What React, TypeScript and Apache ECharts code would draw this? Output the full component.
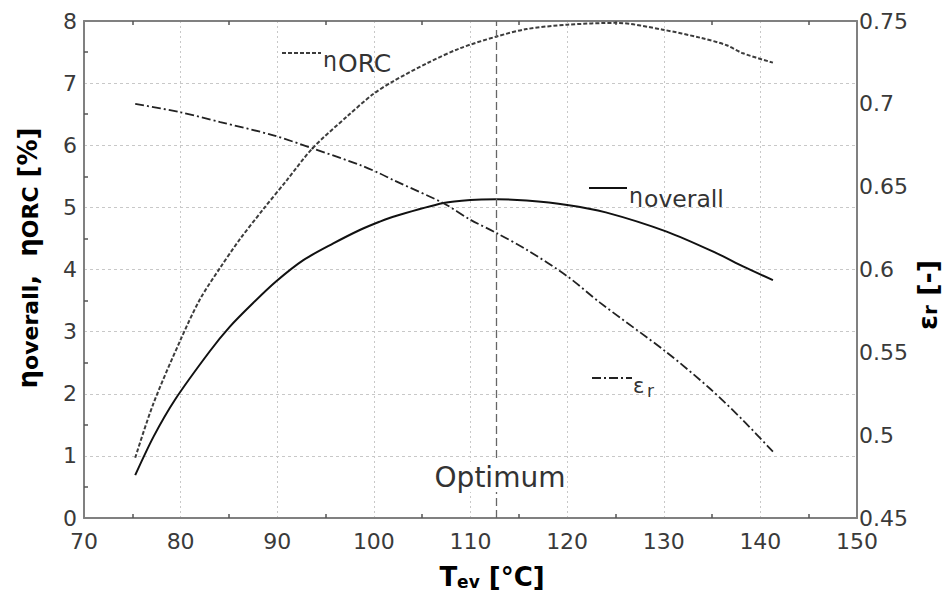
import React, { useEffect, useRef } from "react";
import * as echarts from "echarts";

// Evaporation temperature T_ev [°C] and the curves read against it
const tempOrc = [75.3, 77.2, 80.0, 82.0, 84.1, 86.1, 88.5, 91.0, 93.7, 97.2, 99.9, 102.0, 105.5, 108.9, 112.7, 115.8, 120.0, 125.1, 129.9, 133.8, 136.5, 138.2, 141.3];
const etaOrc = [0.97, 1.85, 2.87, 3.52, 4.03, 4.48, 4.96, 5.44, 5.96, 6.46, 6.82, 7.03, 7.32, 7.56, 7.75, 7.87, 7.94, 7.97, 7.86, 7.73, 7.61, 7.48, 7.33];

const tempOverall = [75.3, 77.2, 79.4, 83.0, 85.1, 87.5, 89.9, 92.7, 95.8, 98.6, 100.6, 102.0, 107.2, 110.0, 112.7, 115.8, 120.0, 124.0, 130.3, 135.5, 138.2, 141.3];
const etaOverall = [0.69, 1.31, 1.9, 2.68, 3.08, 3.46, 3.81, 4.15, 4.42, 4.64, 4.77, 4.85, 5.07, 5.12, 5.13, 5.11, 5.04, 4.92, 4.61, 4.26, 4.05, 3.83];

const tempEps = [75.3, 79.9, 84.1, 89.6, 93.7, 98.6, 100.6, 102.0, 107.2, 110.0, 112.7, 115.8, 120.0, 123.4, 130.3, 134.8, 138.2, 141.3];
const epsR = [0.7, 0.695, 0.689, 0.681, 0.673, 0.663, 0.658, 0.654, 0.64, 0.63, 0.622, 0.612, 0.596, 0.58, 0.55, 0.528, 0.509, 0.49];

const optimumTemp = 112.7;

// Axis ranges
const xRange = { min: 70, max: 150, step: 10 };
const leftRange = { min: 0, max: 8, step: 1 };
const rightRange = { min: 0.45, max: 0.75, step: 0.05 };

const pairs = (xs: number[], ys: number[]) => xs.map((x, i) => [x, ys[i]]);

const FONT = "DejaVu Sans";
const AXIS_GRAY = "#808080";
const GRID_GRAY = "#c8c8c8";
const LABEL = { fontFamily: FONT, fontSize: 22, color: "#3a3a3a" };

// a plain text element centred vertically on y
const label = (text: string, x: number, y: number, size: number) => ({
  type: "text",
  x,
  y,
  z: 10,
  style: { text, fontFamily: FONT, fontSize: size, fill: "#333", align: "left", verticalAlign: "middle" },
});

export default function App() {
  const ref = useRef<HTMLDivElement>(null);

  useEffect(() => {
    document.body.style.margin = "0";
    const chart = echarts.init(ref.current!, null, { renderer: "svg" });

    const boldMain = { fontFamily: FONT, fontWeight: "bold", fontSize: 26, lineHeight: 26, verticalAlign: "top", color: "#111" };
    const boldSub = { fontFamily: FONT, fontWeight: "bold", fontSize: 22, lineHeight: 10, verticalAlign: "bottom", color: "#111" };

    chart.setOption({
      animation: false,
      backgroundColor: "#fff",
      grid: { left: 84, right: 90, top: 21, bottom: 73, containLabel: false },
      xAxis: [
        {
          type: "value",
          position: "bottom",
          min: xRange.min,
          max: xRange.max,
          interval: xRange.step,
          axisLine: { show: true, lineStyle: { color: AXIS_GRAY, width: 2 } },
          axisTick: { show: false, inside: true },
          minorTick: { show: true, splitNumber: 2, length: 4, lineStyle: { color: "#555", width: 1.5 } },
          axisLabel: { ...LABEL, margin: 12 },
          splitLine: { show: true, lineStyle: { color: GRID_GRAY, type: [2, 3], width: 1 } },
        },
        {
          type: "value",
          position: "top",
          min: xRange.min,
          max: xRange.max,
          interval: xRange.step,
          axisLine: { show: true, lineStyle: { color: AXIS_GRAY, width: 2 } },
          axisTick: { show: false, inside: true },
          minorTick: { show: true, splitNumber: 2, length: 4, lineStyle: { color: "#555", width: 1.5 } },
          axisLabel: { show: false },
          splitLine: { show: false },
        },
      ],
      yAxis: [
        {
          type: "value",
          position: "left",
          min: leftRange.min,
          max: leftRange.max,
          interval: leftRange.step,
          axisLine: { show: true, lineStyle: { color: AXIS_GRAY, width: 2 } },
          axisTick: { show: false, inside: true },
          minorTick: { show: true, splitNumber: 2, length: 4, lineStyle: { color: "#555", width: 1.5 } },
          axisLabel: { ...LABEL, margin: 7 },
          splitLine: { show: true, lineStyle: { color: GRID_GRAY, type: [3, 3], width: 1 } },
        },
        {
          type: "value",
          position: "right",
          min: rightRange.min,
          max: rightRange.max,
          interval: rightRange.step,
          axisLine: { show: true, lineStyle: { color: AXIS_GRAY, width: 2 } },
          axisTick: { show: false },
          axisLabel: { ...LABEL, margin: 2, formatter: (v: number) => String(Math.round(v * 100) / 100) },
          splitLine: { show: false },
        },
      ],
      series: [
        {
          name: "ηORC",
          type: "line",
          xAxisIndex: 0,
          yAxisIndex: 0,
          data: pairs(tempOrc, etaOrc),
          smooth: 0.3,
          showSymbol: false,
          lineStyle: { color: "#3c3c3c", width: 2, type: [4, 2] },
          z: 3,
        },
        {
          name: "ηoverall",
          type: "line",
          xAxisIndex: 0,
          yAxisIndex: 0,
          data: pairs(tempOverall, etaOverall),
          smooth: 0.3,
          showSymbol: false,
          lineStyle: { color: "#111", width: 2 },
          z: 3,
          markLine: {
            silent: true,
            symbol: "none",
            label: { show: false },
            lineStyle: { color: "#666", width: 1.3, type: [8, 4] },
            data: [{ xAxis: optimumTemp }],
          },
        },
        {
          name: "εr",
          type: "line",
          xAxisIndex: 0,
          yAxisIndex: 1,
          data: pairs(tempEps, epsR),
          smooth: 0.3,
          showSymbol: false,
          lineStyle: { color: "#222", width: 1.8, type: [9, 3, 2, 3] },
          z: 3,
        },
      ],
      graphic: [
        // in-plot curve keys
        { type: "line", shape: { x1: 282, y1: 53, x2: 321, y2: 53 }, style: { stroke: "#3c3c3c", lineWidth: 2, lineDash: [4, 2] }, z: 10 },
        label("η", 323, 59, 22),
        label("ORC", 338, 63, 25),
        { type: "line", shape: { x1: 589, y1: 188, x2: 627, y2: 188 }, style: { stroke: "#111", lineWidth: 2 }, z: 10 },
        label("η", 629, 195, 22),
        label("overall", 644, 199, 23.5),
        { type: "line", shape: { x1: 592, y1: 378, x2: 632, y2: 378 }, style: { stroke: "#222", lineWidth: 1.8, lineDash: [9, 3, 2, 3] }, z: 10 },
        label("ε", 633, 386, 21),
        label("r", 647, 391, 17),
        {
          type: "text", x: 500, y: 477, z: 10,
          style: {
            text: "Optimum",
            fontFamily: FONT, fontSize: 28, fill: "#333",
            align: "center", verticalAlign: "middle",
            backgroundColor: "#fff", padding: [1, 0],
          },
        },
        // axis titles
        {
          type: "text", x: 492, y: 577, z: 10,
          style: {
            text: "{m|T}{s|ev}{m| [°C]}",
            align: "center", verticalAlign: "middle",
            rich: { m: boldMain, s: { ...boldSub, fontSize: 17 } },
          },
        },
        {
          type: "text", x: 28, y: 258, rotation: Math.PI / 2, z: 10,
          style: {
            text: "{m|η}{s|overall}{m|,  η}{s|ORC}{m| [%]}",
            align: "center", verticalAlign: "middle",
            rich: { m: boldMain, s: boldSub },
          },
        },
        {
          type: "text", x: 927, y: 295, rotation: Math.PI / 2, z: 10,
          style: {
            text: "{m|ε}{s|r}{m| [-]}",
            align: "center", verticalAlign: "middle",
            rich: { m: { ...boldMain, fontSize: 27 }, s: { ...boldSub, fontSize: 20 } },
          },
        },
      ],
    });

    return () => chart.dispose();
  }, []);

  return <div ref={ref} style={{ width: 947, height: 591 }} />;
}
